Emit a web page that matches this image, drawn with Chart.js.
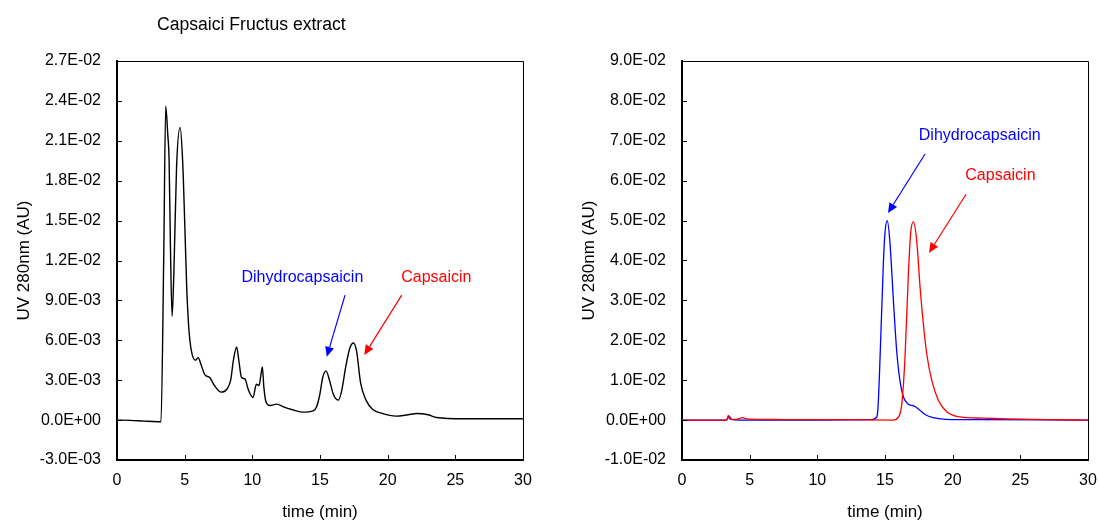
<!DOCTYPE html>
<html>
<head>
<meta charset="utf-8">
<script src="https://cdn.jsdelivr.net/npm/chart.js@4"></script>
<style>
    body { margin: 0; background: #fff; width: 1099px; height: 523px; overflow: hidden; }
    .box { position: absolute; top: 0; height: 523px; }
    #leftBox { left: 0; width: 550px; }
    #rightBox { left: 550px; width: 549px; }
</style>
</head>
<body>
<div class="box" id="leftBox"><canvas id="leftChart" width="550" height="523"></canvas></div>
<div class="box" id="rightBox"><canvas id="rightChart" width="549" height="523"></canvas></div>
<script>
// Left: extract chromatogram (time in min, absorbance in AU)
const extractTime = [0, 1, 2, 3, 3.25, 3.45, 3.6, 3.75, 3.85, 3.95, 4.07, 4.2, 4.4, 4.66, 4.85, 5.0, 5.15, 5.3, 5.48,
    5.8, 6.0, 6.2, 6.5, 6.85, 7.2, 7.7, 8.1, 8.4, 8.6, 8.84, 9.0, 9.2, 9.45, 9.7, 10.05, 10.3, 10.5, 10.62, 10.74,
    10.85, 11.0, 11.3, 11.8, 12.3, 12.9, 13.7, 14.5, 14.75, 15.0, 15.2, 15.45, 15.7, 16.0, 16.36, 16.6, 16.9, 17.2,
    17.47, 17.7, 18.0, 18.4, 18.9, 19.6, 20.6, 21.5, 22.15, 23.0, 23.6, 25.6, 28, 30];
const extractAbs = [0, -0.00002, -0.00008, -0.00012, -0.00012, 0.0120, 0.0236, 0.0215, 0.0195, 0.0130, 0.0078, 0.0110,
    0.0190, 0.0220, 0.0195, 0.0150, 0.0100, 0.0070, 0.0053, 0.0045, 0.0047, 0.0042, 0.0034, 0.0032, 0.0026, 0.0021,
    0.0023, 0.0030, 0.0045, 0.0055, 0.0045, 0.0032, 0.0031, 0.0023, 0.0017, 0.0027, 0.0026, 0.0033, 0.0040, 0.0025,
    0.0014, 0.0011, 0.0012, 0.0010, 0.0008, 0.0006, 0.0007, 0.0010, 0.0020, 0.0032, 0.0037, 0.0030, 0.0019, 0.0015,
    0.0022, 0.0040, 0.0054, 0.0058, 0.0052, 0.0028, 0.0015, 0.0008, 0.0005, 0.0003, 0.0004, 0.0005, 0.0004, 0.0002,
    0.0001, 0.0001, 0.0001];

// Right: standards
const dihydroTime = [0, 3.3, 3.5, 3.6, 3.7, 4.5, 10, 14.0, 14.4, 14.5, 14.68, 14.88, 15.0, 15.17, 15.37, 15.62, 15.86,
    16.1, 16.36, 16.73, 17.0, 17.22, 17.6, 17.96, 18.55, 19.5, 22, 30];
const dihydroAbs = [0, 0, 0.0010, 0.0004, 0.0001, 0, 0, 0.0001, 0.0008, 0.0042, 0.0200, 0.0393, 0.0470, 0.0500, 0.0443,
    0.0300, 0.0175, 0.0100, 0.0058, 0.0040, 0.0037, 0.0034, 0.0024, 0.0014, 0.0006, 0.0002, 0.0001, 0];
const capsaicinTime = [0, 3.3, 3.42, 3.5, 3.7, 4.0, 4.47, 4.8, 6, 8, 12, 15.6, 16.0, 16.24, 16.48, 16.73, 16.9, 17.1,
    17.34, 17.59, 17.83, 18.08, 18.45, 18.94, 19.56, 20.55, 22.27, 24, 27, 30];
const capsaicinAbs = [0, 0, 0.0012, 0.0003, 0.0002, 0.0002, 0.0006, 0.0003, 0.0002, 0.0001, 0.0001, 0, 0.0008, 0.0040,
    0.0159, 0.0368, 0.0470, 0.0497, 0.0451, 0.0334, 0.0242, 0.0167, 0.0100, 0.0050, 0.0021, 0.0008, 0.0005, 0.0003,
    0.0001, 0];

// Tick values
const timeTicks = [0, 5, 10, 15, 20, 25, 30];
const leftAbsTicks = [-0.003, 0, 0.003, 0.006, 0.009, 0.012, 0.015, 0.018, 0.021, 0.024, 0.027];
const rightAbsTicks = [-0.01, 0, 0.01, 0.02, 0.03, 0.04, 0.05, 0.06, 0.07, 0.08, 0.09];

// Peak labels and arrows, in data units: [text, x, y, colour] and [x1, y1, x2, y2, colour]
const leftLabels = [['Dihydrocapsaicin', 13.7, 0.01075, '#0000ff'], ['Capsaicin', 23.6, 0.01075, '#ff0000']];
const leftArrows = [[16.85, 0.0094, 15.5, 0.00476, '#0000ff'], [21.04, 0.0094, 18.27, 0.00489, '#ff0000']];
const rightLabels = [['Dihydrocapsaicin', 22.0, 0.0712, '#0000ff'], ['Capsaicin', 23.53, 0.0612, '#ff0000']];
const rightArrows = [[17.96, 0.0667, 15.22, 0.0519, '#0000ff'], [20.99, 0.0566, 18.25, 0.0419, '#ff0000']];

Chart.defaults.font.family = '"Liberation Sans", Arial, sans-serif';
Chart.defaults.color = '#000';

function toPoints(xs, ys) {
    return xs.map((x, i) => ({ x: x, y: ys[i] }));
}

// Excel-style scientific labels, e.g. 2.7E-02
function sci(v) {
    if (Math.abs(v) < 1e-12) return '0.0E+00';
    const parts = v.toExponential(1).split('e');
    const n = parseInt(parts[1], 10);
    return parts[0] + 'E' + (n < 0 ? '-' : '+') + String(Math.abs(n)).padStart(2, '0');
}

// Frame, inside tick marks, peak labels and arrows
const decorPlugin = {
    id: 'decor',
    afterDraw(chart, args, opts) {
        const ctx = chart.ctx;
        const area = chart.chartArea;
        const xs = chart.scales.x;
        const ys = chart.scales.y;
        ctx.save();
        ctx.strokeStyle = '#000';
        ctx.lineWidth = 1;
        ctx.beginPath();
        ctx.moveTo(area.left, area.top + 0.5);
        ctx.lineTo(area.right + 0.5, area.top + 0.5);
        ctx.lineTo(area.right + 0.5, area.bottom);
        xs.ticks.forEach(t => {
            const px = Math.round(xs.getPixelForValue(t.value)) + 0.5;
            ctx.moveTo(px, area.bottom);
            ctx.lineTo(px, area.bottom - 5);
        });
        ys.ticks.forEach(t => {
            const py = Math.round(ys.getPixelForValue(t.value)) + 0.5;
            ctx.moveTo(area.left, py);
            ctx.lineTo(area.left + 5, py);
        });
        ctx.stroke();

        (opts.arrows || []).forEach(a => {
            const x1 = xs.getPixelForValue(a[0]), y1 = ys.getPixelForValue(a[1]);
            const x2 = xs.getPixelForValue(a[2]), y2 = ys.getPixelForValue(a[3]);
            const ang = Math.atan2(y2 - y1, x2 - x1);
            const head = 10, half = 4.5;
            ctx.strokeStyle = a[4];
            ctx.fillStyle = a[4];
            ctx.lineWidth = 1.2;
            ctx.beginPath();
            ctx.moveTo(x1, y1);
            ctx.lineTo(x2 - Math.cos(ang) * head, y2 - Math.sin(ang) * head);
            ctx.stroke();
            ctx.beginPath();
            ctx.moveTo(x2, y2);
            ctx.lineTo(x2 - Math.cos(ang) * head - Math.sin(ang) * half, y2 - Math.sin(ang) * head + Math.cos(ang) * half);
            ctx.lineTo(x2 - Math.cos(ang) * head + Math.sin(ang) * half, y2 - Math.sin(ang) * head - Math.cos(ang) * half);
            ctx.closePath();
            ctx.fill();
        });

        ctx.font = '16px "Liberation Sans", Arial, sans-serif';
        ctx.textAlign = 'center';
        ctx.textBaseline = 'middle';
        (opts.labels || []).forEach(l => {
            ctx.fillStyle = l[3];
            ctx.fillText(l[0], xs.getPixelForValue(l[1]), ys.getPixelForValue(l[2]));
        });

        if (opts.title) {
            ctx.fillStyle = '#000';
            ctx.font = '17.6px "Liberation Sans", Arial, sans-serif';
            ctx.textAlign = 'left';
            ctx.fillText(opts.title, area.left + 40, area.top - 36);
        }
        ctx.restore();
    }
};

function makeChart(canvasId, datasets, yTicks, yWidth, yTitlePad, rightPad, decor) {
    return new Chart(document.getElementById(canvasId), {
        type: 'line',
        data: { datasets: datasets },
        options: {
            responsive: false,
            animation: false,
            events: [],
            layout: { padding: { top: 61, right: rightPad, bottom: 0, left: 0 } },
            plugins: {
                legend: { display: false },
                tooltip: { enabled: false },
                decor: decor
            },
            elements: { point: { radius: 0 } },
            scales: {
                x: {
                    type: 'linear',
                    min: 0,
                    max: 30,
                    afterBuildTicks: s => { s.ticks = timeTicks.map(v => ({ value: v })); },
                    afterFit: s => { s.height = 63; s.paddingLeft = 0; s.paddingRight = 0; },
                    grid: { display: false, drawTicks: false },
                    border: { display: true, color: '#000', width: 2 },
                    ticks: { font: { size: 16 }, padding: 11, maxRotation: 0, color: '#000' },
                    title: { display: true, text: 'time (min)', font: { size: 17 }, padding: { top: 0, bottom: 0 }, color: '#000' }
                },
                y: {
                    type: 'linear',
                    min: yTicks[0],
                    max: yTicks[yTicks.length - 1],
                    afterBuildTicks: s => { s.ticks = yTicks.map(v => ({ value: v })); },
                    afterFit: s => { s.width = yWidth; },
                    grid: { display: false, drawTicks: false },
                    border: { display: true, color: '#000', width: 2 },
                    ticks: { font: { size: 16 }, padding: 16, color: '#000', callback: v => sci(v) },
                    title: { display: true, text: 'UV 280nm (AU)', font: { size: 17 }, padding: { top: yTitlePad, bottom: 0 }, color: '#000' }
                }
            }
        },
        plugins: [decorPlugin]
    });
}

makeChart('leftChart', [{
    data: toPoints(extractTime, extractAbs),
    borderColor: '#000',
    borderWidth: 1.4,
    cubicInterpolationMode: 'monotone',
    fill: false
}], leftAbsTicks, 117, 14, 27, { title: 'Capsaici Fructus extract', labels: leftLabels, arrows: leftArrows });

makeChart('rightChart', [{
    data: toPoints(capsaicinTime, capsaicinAbs),
    borderColor: '#ff0000',
    borderWidth: 1.3,
    cubicInterpolationMode: 'monotone',
    fill: false
}, {
    data: toPoints(dihydroTime, dihydroAbs),
    borderColor: '#0000ff',
    borderWidth: 1.3,
    cubicInterpolationMode: 'monotone',
    fill: false
}], rightAbsTicks, 132, 29, 11, { labels: rightLabels, arrows: rightArrows });
</script>
</body>
</html>
